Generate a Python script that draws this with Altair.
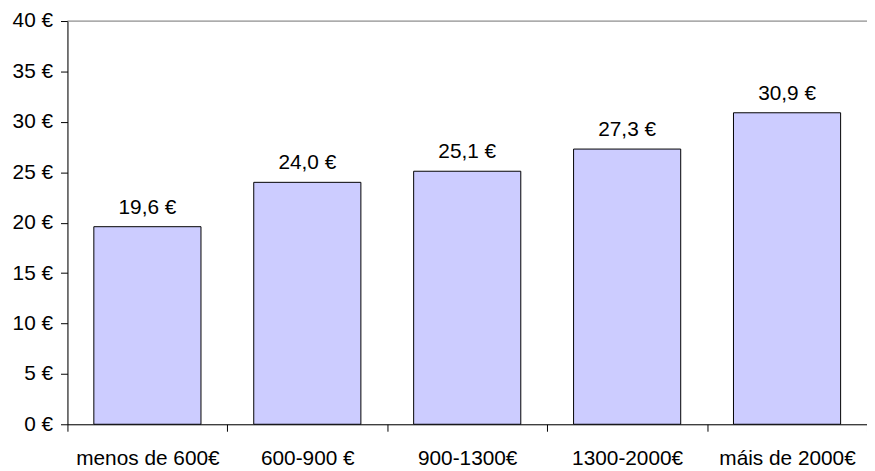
import altair as alt
import pandas as pd

categories = ["menos de 600€", "600-900 €", "900-1300€", "1300-2000€", "máis de 2000€"]
values = [19.6, 24.0, 25.1, 27.3, 30.9]

df = pd.DataFrame({"cat": categories, "value": values})

FONT = "Liberation Sans"
FS = 21

x = alt.X("cat:N", sort=categories, title=None,
          scale=alt.Scale(paddingInner=0, paddingOuter=0),
          axis=alt.Axis(labelAngle=0, tickBand="extent", tickSize=7, tickColor="#000000",
                        domainColor="#000000", labelPadding=34, labelBaseline="alphabetic",
                        labelFont=FONT, labelFontSize=FS, labelColor="#000000", grid=False))
y = alt.Y("value:Q", title=None,
          scale=alt.Scale(domain=[0, 40], nice=False),
          axis=alt.Axis(values=[0, 5, 10, 15, 20, 25, 30, 35, 40], labelExpr="datum.value + ' €'",
                        tickSize=7, tickColor="#000000", domainColor="#000000", labelPadding=8,
                        labelFont=FONT, labelFontSize=FS, labelColor="#000000", grid=False))

base = alt.Chart(df)

bars = base.mark_bar(color="#CCCCFF", stroke="#000000", strokeWidth=1,
                     width=alt.RelativeBandSize(0.67)).encode(x=x, y=y)

labels = base.transform_calculate(
    label="replace(format(datum.value, '.1f'), '.', ',') + ' €'"
).mark_text(font=FONT, fontSize=FS, color="#000000", baseline="alphabetic", dy=-13).encode(
    x=alt.X("cat:N", sort=categories), y="value:Q", text="label:N")

top_line = alt.Chart(pd.DataFrame({"v": [40]})).mark_rule(color="#808080", strokeWidth=1).encode(
    y=alt.Y("v:Q"))

chart = alt.layer(top_line, bars, labels).properties(
    width=807, height=407,
    autosize=alt.AutoSizeParams(type="none"),
    padding={"left": 60, "top": 11, "right": 0, "bottom": 45},
).configure_view(stroke=None).configure(background="#ffffff")

chart.save("out.html", embed_options={"renderer": "svg", "actions": False})
